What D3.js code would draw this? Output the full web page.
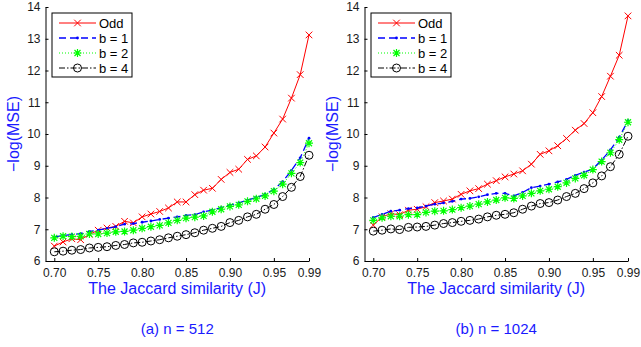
<!DOCTYPE html>
<html>
<head>
<meta charset="utf-8">
<script src="https://cdn.jsdelivr.net/npm/d3@7"></script>
<style>
  body { margin: 0; background: #fff; }
  svg { display: block; font-family: "Liberation Sans", Arial, sans-serif; }
</style>
</head>
<body>
<svg width="641" height="347"></svg>
<script>
// x values: the Jaccard similarity 0.70 .. 0.99
const jaccard = [0.70, 0.71, 0.72, 0.73, 0.74, 0.75, 0.76, 0.77, 0.78, 0.79,
                 0.80, 0.81, 0.82, 0.83, 0.84, 0.85, 0.86, 0.87, 0.88, 0.89,
                 0.90, 0.91, 0.92, 0.93, 0.94, 0.95, 0.96, 0.97, 0.98, 0.99];
const xTicks = [0.70, 0.75, 0.80, 0.85, 0.90, 0.95, 0.99];
const yTicks = [6, 7, 8, 9, 10, 11, 12, 13, 14];

// (a) n = 512
const odd512 = [6.47, 6.60, 6.70, 6.67, 6.84, 6.97, 7.04, 7.09, 7.25, 7.20,
                7.39, 7.48, 7.56, 7.67, 7.86, 7.86, 8.09, 8.23, 8.29, 8.57,
                8.79, 8.89, 9.20, 9.31, 9.59, 10.03, 10.47, 11.13, 11.87, 13.12];
const b1_512 = [6.76, 6.80, 6.84, 6.86, 6.93, 6.97, 7.03, 7.08, 7.16, 7.18,
                7.22, 7.26, 7.31, 7.35, 7.39, 7.44, 7.46, 7.55, 7.60, 7.68,
                7.76, 7.83, 7.92, 8.00, 8.10, 8.25, 8.50, 8.85, 9.25, 9.87];
const b2_512 = [6.73, 6.78, 6.77, 6.78, 6.85, 6.85, 6.88, 6.92, 6.93, 6.97,
                7.03, 7.08, 7.12, 7.20, 7.28, 7.35, 7.38, 7.42, 7.55, 7.63,
                7.72, 7.77, 7.88, 7.96, 8.05, 8.20, 8.42, 8.76, 9.10, 9.71];
const b4_512 = [6.29, 6.31, 6.34, 6.36, 6.41, 6.43, 6.45, 6.49, 6.52, 6.57,
                6.59, 6.63, 6.67, 6.73, 6.78, 6.83, 6.89, 6.97, 7.03, 7.09,
                7.21, 7.28, 7.39, 7.47, 7.63, 7.78, 8.03, 8.32, 8.66, 9.33];

// (b) n = 1024
const odd1024 = [7.13, 7.39, 7.49, 7.46, 7.60, 7.63, 7.71, 7.84, 7.89, 7.95,
                 8.10, 8.21, 8.28, 8.42, 8.53, 8.65, 8.74, 8.84, 9.05, 9.36,
                 9.47, 9.63, 9.86, 10.12, 10.33, 10.67, 11.18, 11.82, 12.48, 13.72];
const b1_1024 = [7.37, 7.47, 7.57, 7.60, 7.65, 7.67, 7.73, 7.79, 7.83, 7.88,
                 7.95, 7.97, 8.02, 8.09, 8.13, 8.13, 8.05, 8.16, 8.31, 8.36,
                 8.42, 8.49, 8.57, 8.70, 8.80, 8.90, 9.18, 9.50, 9.90, 10.42];
const b2_1024 = [7.28, 7.36, 7.41, 7.41, 7.46, 7.46, 7.53, 7.57, 7.58, 7.62,
                 7.68, 7.73, 7.79, 7.86, 7.92, 7.99, 7.97, 8.05, 8.13, 8.21,
                 8.26, 8.34, 8.46, 8.60, 8.70, 8.88, 9.13, 9.41, 9.82, 10.37];
const b4_1024 = [6.94, 6.97, 7.01, 6.99, 7.06, 7.07, 7.09, 7.13, 7.18, 7.21,
                 7.25, 7.28, 7.32, 7.39, 7.44, 7.47, 7.52, 7.63, 7.73, 7.81,
                 7.84, 7.92, 8.03, 8.13, 8.28, 8.46, 8.68, 8.97, 9.36, 9.93];

const seriesNames = ["Odd", "b = 1", "b = 2", "b = 4"];
const panels = [
    { left: 45.5, caption: "(a) n = 512", series: [odd512, b1_512, b2_512, b4_512] },
    { left: 364.5, caption: "(b) n = 1024", series: [odd1024, b1_1024, b2_1024, b4_1024] }
];

// line style per series
const styles = [
    { color: "#ff0000", dash: null, width: 1, marker: "x" },
    { color: "#0000ff", dash: "7,4", width: 1.3, marker: "dot" },
    { color: "#00ff00", dash: "1,2", width: 1, marker: "star" },
    { color: "#000000", dash: "6,2,1.5,2", width: 1, marker: "o" }
];

const svg = d3.select("svg");
const plotW = 263.5;
const plotTop = 7, plotBottom = 261;
const labelBlue = "#1a1aff";

function drawMarker(g, type, color) {
    if (type == "x") {
        g.append("path").attr("d", "M-3.3,-3.3L3.3,3.3M-3.3,3.3L3.3,-3.3")
            .attr("stroke", color).attr("stroke-width", 1).attr("fill", "none");
    } else if (type == "dot") {
        g.append("circle").attr("r", 1.4).attr("fill", color);
    } else if (type == "star") {
        g.append("path").attr("d", "M-4,0L4,0M0,-4L0,4M-3,-3L3,3M-3,3L3,-3")
            .attr("stroke", color).attr("stroke-width", 1.2).attr("fill", "none");
    } else {
        g.append("circle").attr("r", 4).attr("fill", "none")
            .attr("stroke", color).attr("stroke-width", 1);
    }
}

function drawPanel(p) {
    const x = d3.scaleLinear().domain([0.69, 0.99]).range([p.left, p.left + plotW]);
    const y = d3.scaleLinear().domain([6, 14]).range([plotBottom, plotTop]);
    const g = svg.append("g");

    // axes (ticks pointing inward, no box)
    const xAxis = g.append("g").attr("transform", "translate(0," + plotBottom + ")")
        .call(d3.axisBottom(x).tickValues(xTicks).tickFormat(d3.format(".2f"))
            .tickSizeInner(-3).tickSizeOuter(0).tickPadding(6));
    const yAxis = g.append("g").attr("transform", "translate(" + p.left + ",0)")
        .call(d3.axisLeft(y).tickValues(yTicks).tickSizeInner(-3).tickSizeOuter(0).tickPadding(5));
    [xAxis, yAxis].forEach(a => {
        a.select(".domain").attr("stroke", "#000");
        a.selectAll(".tick line").attr("stroke", "#000");
        a.selectAll("text").attr("fill", "#1a1a1a").style("font-size", "12px");
    });
    xAxis.selectAll("text").attr("dy", "0.85em");

    const line = d3.line().x((d, i) => x(jaccard[i])).y(d => y(d));

    p.series.forEach((vals, k) => {
        const s = styles[k];
        g.append("path").datum(vals)
            .attr("d", line)
            .attr("fill", "none")
            .attr("stroke", s.color)
            .attr("stroke-width", s.width)
            .attr("stroke-dasharray", s.dash);
        g.selectAll(null).data(vals).enter().append("g")
            .attr("transform", (d, i) => "translate(" + x(jaccard[i]) + "," + y(d) + ")")
            .each(function () { drawMarker(d3.select(this), s.marker, s.color); });
    });

    // legend
    const lx = p.left + 6.5, ly = 13;
    const leg = g.append("g").attr("transform", "translate(" + lx + "," + ly + ")");
    leg.append("rect").attr("width", 80).attr("height", 64)
        .attr("fill", "#fff").attr("stroke", "#000").attr("stroke-width", 1);
    seriesNames.forEach((name, k) => {
        const s = styles[k];
        const ry = 10 + k * 15;
        leg.append("line").attr("x1", 7).attr("x2", 44).attr("y1", ry).attr("y2", ry)
            .attr("stroke", s.color).attr("stroke-width", s.width)
            .attr("stroke-dasharray", s.dash);
        drawMarker(leg.append("g").attr("transform", "translate(25.5," + ry + ")"), s.marker, s.color);
        leg.append("text").attr("x", 47).attr("y", ry).attr("dy", "0.35em")
            .style("font-size", "13px").attr("fill", "#000").text(name);
    });

    // labels
    const cx = p.left + plotW / 2;
    g.append("text").attr("x", cx).attr("y", 294)
        .attr("text-anchor", "middle").style("font-size", "16px").attr("fill", labelBlue)
        .text("The Jaccard similarity (J)");
    g.append("text")
        .attr("transform", "translate(" + (p.left - 27) + "," + 134 + ") rotate(-90)")
        .attr("text-anchor", "middle").style("font-size", "16px").attr("fill", labelBlue)
        .text("\u2212log(MSE)");
    g.append("text").attr("x", cx).attr("y", 334)
        .attr("text-anchor", "middle").style("font-size", "15px").attr("fill", labelBlue)
        .text(p.caption);
}

panels.forEach(drawPanel);
</script>
</body>
</html>
